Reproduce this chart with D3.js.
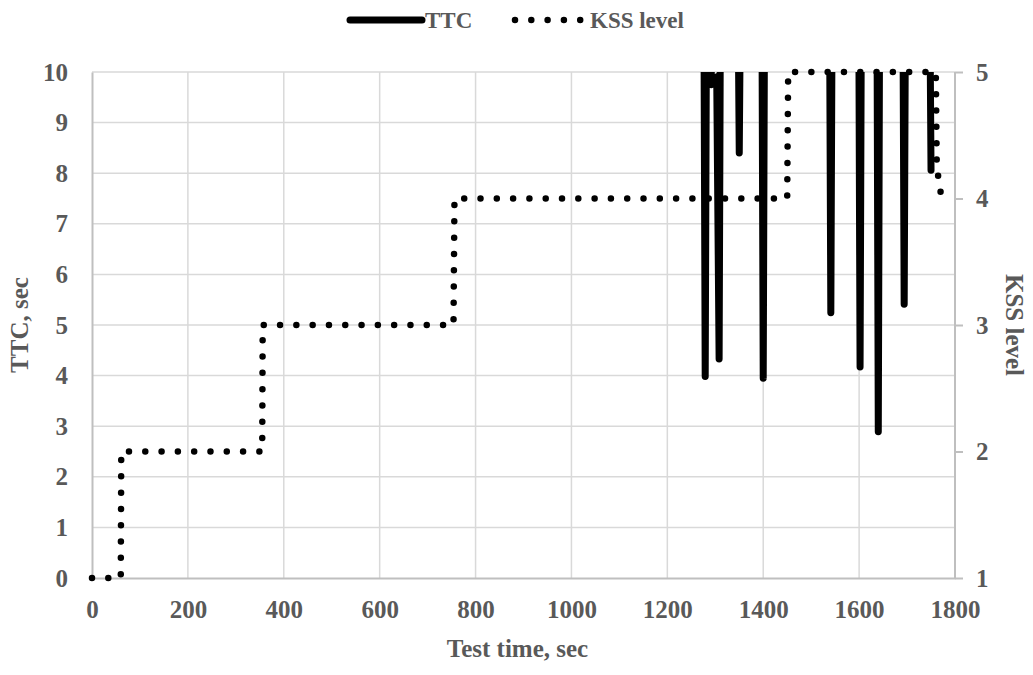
<!DOCTYPE html>
<html>
<head>
<meta charset="utf-8">
<script src="https://cdn.jsdelivr.net/npm/d3@7"></script>
<style>
  body { margin: 0; background: #fff; }
  text { font-family: "Liberation Serif", "Times New Roman", serif; font-weight: bold; fill: #595959; }
</style>
</head>
<body>
<svg width="1033" height="675"></svg>
<script>
(function(){
  'use strict';

  var WIDTH = 1033;
  var HEIGHT = 675;

  var padding = {
    top: 72,
    bottom: 97,
    left: 92,
    right: 78
  };

  // TTC series (values above 10 run off the top of the axis)
  var ttcTime  = [1276, 1279, 1282, 1289, 1292, 1303, 1308, 1311, 1347, 1350, 1353, 1397, 1400, 1403,
                  1538, 1541, 1544, 1599, 1602, 1605, 1637, 1640, 1643, 1691, 1694, 1697, 1747, 1750];
  var ttcValue = [12, 3.98, 12, 12, 9.75, 9.9, 4.33, 12, 12, 8.4, 12, 12, 3.95, 12,
                  12, 5.24, 12, 12, 4.17, 12, 12, 2.89, 12, 12, 5.41, 12, 12, 8.06];

  // KSS level series
  var kssTime  = [0, 60, 61, 355, 356, 754, 756, 1450, 1452, 1760, 1762, 1772];
  var kssLevel = [1, 1, 2, 2, 3, 3, 4, 4, 5, 5, 4.25, 4];

  var xTicks = [0, 200, 400, 600, 800, 1000, 1200, 1400, 1600, 1800];
  var yTicks = [0, 1, 2, 3, 4, 5, 6, 7, 8, 9, 10];
  var y2Ticks = [1, 2, 3, 4, 5];

  var ttc = ttcTime.map(function(t, i) { return {t: t, v: ttcValue[i]}; });
  var kss = kssTime.map(function(t, i) { return {t: t, v: kssLevel[i]}; });

  var svg = d3.select('svg');
  var innerW = WIDTH - padding.left - padding.right;
  var innerH = HEIGHT - padding.top - padding.bottom;

  var xScale = d3.scaleLinear().domain([0, 1800]).range([0, innerW]);
  var yScale = d3.scaleLinear().domain([0, 10]).range([innerH, 0]);
  var y2Scale = d3.scaleLinear().domain([1, 5]).range([innerH, 0]);

  var g = svg.append('g')
    .attr('transform', 'translate(' + [padding.left, padding.top] + ')');

  svg.append('defs').append('clipPath').attr('id', 'plot')
    .append('rect').attr('width', innerW).attr('height', innerH);

  // gridlines
  g.append('g')
    .selectAll('line')
    .data(yTicks.slice(1))
    .enter().append('line')
    .attr('x1', 0).attr('x2', innerW)
    .attr('y1', yScale).attr('y2', yScale)
    .attr('stroke', '#d9d9d9').attr('stroke-width', 1.5);

  g.append('g')
    .selectAll('line')
    .data(xTicks.slice(1, -1))
    .enter().append('line')
    .attr('y1', 0).attr('y2', innerH)
    .attr('x1', xScale).attr('x2', xScale)
    .attr('stroke', '#d9d9d9').attr('stroke-width', 1.5);

  // axes
  var fmt = d3.format('d');

  var xAxis = g.append('g')
    .attr('transform', 'translate(0,' + innerH + ')')
    .call(d3.axisBottom(xScale).tickValues(xTicks).tickFormat(fmt).tickSize(0).tickPadding(22));

  var yAxis = g.append('g')
    .call(d3.axisLeft(yScale).tickValues(yTicks).tickFormat(fmt).tickSize(0).tickPadding(24));

  var y2Axis = g.append('g')
    .attr('transform', 'translate(' + innerW + ',0)')
    .call(d3.axisRight(y2Scale).tickValues(y2Ticks).tickFormat(fmt).tickSize(8).tickPadding(13));

  [xAxis, yAxis, y2Axis].forEach(function(a) {
    a.select('.domain').attr('stroke', '#bfbfbf').attr('stroke-width', 2);
    a.selectAll('.tick line').attr('stroke', '#bfbfbf').attr('stroke-width', 2);
    a.selectAll('.tick text')
      .attr('fill', '#595959')
      .style('font-size', '25px')
      .style('font-family', '"Liberation Serif", "Times New Roman", serif')
      .style('font-weight', 'bold');
  });
  y2Axis.select('.domain').attr('d', 'M0,0V' + innerH);

  // series
  var ttcLine = d3.line()
    .x(function(d) { return xScale(d.t); })
    .y(function(d) { return yScale(d.v); });

  var kssLine = d3.line()
    .x(function(d) { return xScale(d.t); })
    .y(function(d) { return y2Scale(d.v); });

  g.append('path')
    .datum(ttc)
    .attr('clip-path', 'url(#plot)')
    .attr('d', ttcLine)
    .attr('fill', 'none')
    .attr('stroke', '#000')
    .attr('stroke-width', 7)
    .attr('stroke-linecap', 'round')
    .attr('stroke-linejoin', 'round');

  g.append('path')
    .datum(kss)
    .attr('d', kssLine)
    .attr('fill', 'none')
    .attr('stroke', '#000')
    .attr('stroke-width', 6.5)
    .attr('stroke-linecap', 'round')
    .attr('stroke-dasharray', '0 16.3');

  // axis titles
  svg.append('text')
    .attr('x', padding.left + innerW / 2 - 6)
    .attr('y', 657)
    .attr('text-anchor', 'middle')
    .style('font-size', '25px')
    .text('Test time, sec');

  svg.append('text')
    .attr('transform', 'translate(28,' + (padding.top + innerH / 2) + ') rotate(-90)')
    .attr('text-anchor', 'middle')
    .style('font-size', '25px')
    .text('TTC, sec');

  svg.append('text')
    .attr('transform', 'translate(1006,' + (padding.top + innerH / 2) + ') rotate(90)')
    .attr('text-anchor', 'middle')
    .style('font-size', '25px')
    .text('KSS level');

  // legend
  var legend = svg.append('g').attr('transform', 'translate(350,20)');
  legend.append('line')
    .attr('x1', 0).attr('x2', 72).attr('y1', 0).attr('y2', 0)
    .attr('stroke', '#000').attr('stroke-width', 7).attr('stroke-linecap', 'round');
  legend.append('text').attr('x', 75).attr('y', 8).style('font-size', '23px').text('TTC');
  legend.append('line')
    .attr('x1', 165).attr('x2', 237).attr('y1', 0).attr('y2', 0)
    .attr('stroke', '#000').attr('stroke-width', 6.5)
    .attr('stroke-linecap', 'round').attr('stroke-dasharray', '0 16.3');
  legend.append('text').attr('x', 240).attr('y', 8).style('font-size', '23px').text('KSS level');
})();
</script>
</body>
</html>
